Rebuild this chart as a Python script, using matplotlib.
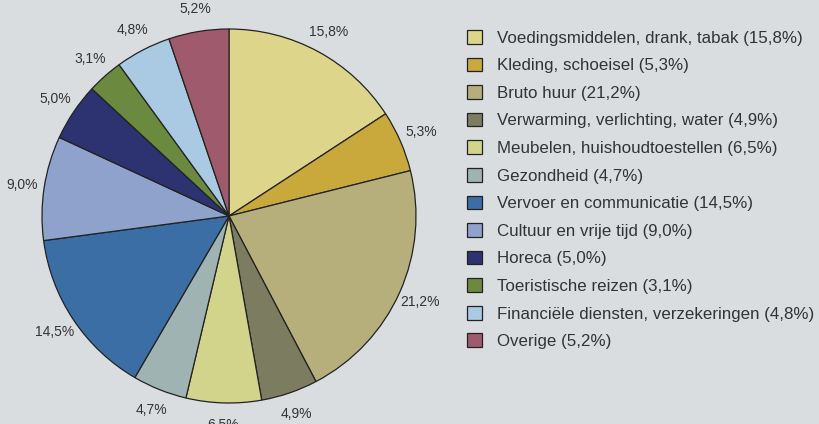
import matplotlib
matplotlib.use("Agg")
import matplotlib.pyplot as plt

# uitgaven per categorie (%)
categories = [
    "Voedingsmiddelen, drank, tabak",
    "Kleding, schoeisel",
    "Bruto huur",
    "Verwarming, verlichting, water",
    "Meubelen, huishoudtoestellen",
    "Gezondheid",
    "Vervoer en communicatie",
    "Cultuur en vrije tijd",
    "Horeca",
    "Toeristische reizen",
    "Financiële diensten, verzekeringen",
    "Overige",
]
values = [15.8, 5.3, 21.2, 4.9, 6.5, 4.7, 14.5, 9.0, 5.0, 3.1, 4.8, 5.2]
colors = ["#ddd68a", "#c9a83c", "#b6ae7b", "#7c7c60", "#d2d48c", "#9fb3b3",
          "#3b6ea5", "#8fa2cb", "#2c3370", "#6b893f", "#a9cae2", "#a05a6d"]

bg = "#dadde0"
plt.rcParams["font.family"] = ["Liberation Sans", "DejaVu Sans"]

def pct(v):
    return ("%.1f%%" % v).replace(".", ",")

pct_labels = [pct(v) for v in values]
legend_labels = ["%s (%s)" % (c, pct(v)) for c, v in zip(categories, values)]

fig = plt.figure(figsize=(8.2, 4.24), dpi=100, facecolor=bg)
ax = fig.add_axes([42 / 820, 21 / 424, 374 / 820, 374 / 424])
ax.set_facecolor(bg)

wedges, texts = ax.pie(values, labels=pct_labels, colors=colors, startangle=90,
                       counterclock=False, labeldistance=1.12,
                       wedgeprops=dict(edgecolor="#222222", linewidth=0.9),
                       textprops=dict(fontsize=10, color="#333333", ha="center", va="center"))
ax.set_xlim(-1.0, 1.0)
ax.set_ylim(-1.0, 1.0)
ax.set_aspect("equal")

leg = fig.legend(wedges, legend_labels, loc="upper left",
                 bbox_to_anchor=(467 / 820, 1 - 30 / 424), frameon=False,
                 fontsize=12.2, handlelength=0.87, handleheight=0.87,
                 handletextpad=0.92, labelspacing=0.7, borderpad=0, borderaxespad=0)
for t in leg.get_texts():
    t.set_color("#333333")

fig.savefig("out.png", dpi=100, facecolor=bg)
